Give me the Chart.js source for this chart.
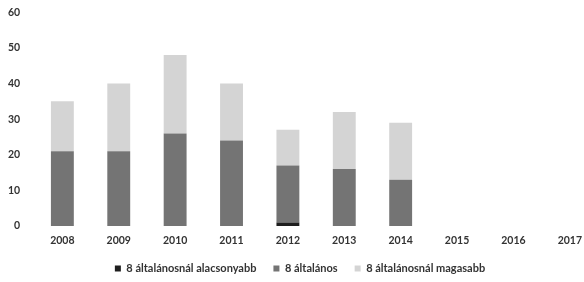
<!DOCTYPE html>
<html>
<head>
<meta charset="utf-8">
<script src="https://cdn.jsdelivr.net/npm/chart.js@4.4.1/dist/chart.umd.min.js"></script>
<style>
  html, body { margin: 0; padding: 0; background: #fff; overflow: hidden; }
  #wrap { position: absolute; left: 0; top: 0; width: 598px; height: 282px; }
</style>
</head>
<body>
<div id="wrap"><canvas id="chart"></canvas></div>
<script>
// data
const years = ['2008', '2009', '2010', '2011', '2012', '2013', '2014', '2015', '2016', '2017'];
const belowEight = [0, 0, 0, 0, 1, 0, 0, null, null, null];
const eightGrades = [21, 21, 26, 24, 16, 16, 13, null, null, null];
const aboveEight = [14, 19, 22, 16, 10, 16, 16, null, null, null];
const yTicks = [0, 10, 20, 30, 40, 50, 60];

const tickFont = { family: 'Lato', size: 10.5, weight: 'bold' };

new Chart(document.getElementById('chart'), {
  type: 'bar',
  data: {
    labels: years,
    datasets: [
      { label: '8 általánosnál alacsonyabb', data: belowEight, backgroundColor: '#1e1e1e' },
      { label: '8 általános', data: eightGrades, backgroundColor: '#747474' },
      { label: '8 általánosnál magasabb', data: aboveEight, backgroundColor: '#d4d4d4' }
    ]
  },
  options: {
    responsive: true,
    maintainAspectRatio: false,
    animation: false,
    layout: { padding: { top: 8, left: 2, right: 0, bottom: -2 } },
    datasets: { bar: { barPercentage: 0.7, categoryPercentage: 0.58 } },
    scales: {
      x: {
        stacked: true,
        grid: { display: false, drawTicks: false },
        border: { display: false },
        ticks: { font: tickFont, color: '#333', maxRotation: 0, padding: 8 },
        afterFit: axis => { axis.height = 20; }
      },
      y: {
        stacked: true,
        min: yTicks[0],
        max: yTicks[yTicks.length - 1],
        grid: { display: false },
        border: { display: false },
        afterBuildTicks: axis => { axis.ticks = yTicks.map(v => ({ value: v })); },
        ticks: { font: tickFont, color: '#333', padding: 6 }
      }
    },
    plugins: {
      legend: {
        position: 'bottom',
        labels: {
          font: { family: 'Lato', size: 11, weight: 'bold' },
          color: '#333',
          boxWidth: 6,
          boxHeight: 6,
          padding: 17
        }
      },
      tooltip: { enabled: false }
    }
  }
});
</script>
</body>
</html>
